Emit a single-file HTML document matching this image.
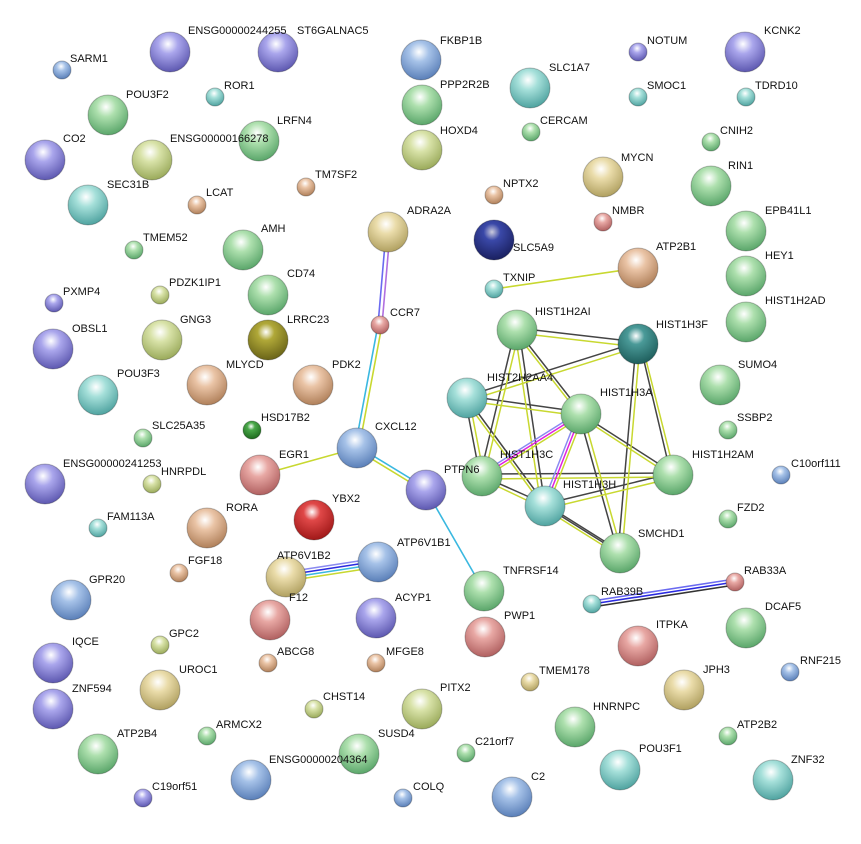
<!DOCTYPE html>
<html><head><meta charset="utf-8"><style>
html,body{margin:0;padding:0;background:#fff;}
svg{display:block;}
text{font-family:"Liberation Sans",sans-serif;font-size:11px;fill:#111;}
</style></head><body>
<svg width="861" height="844" viewBox="0 0 861 844" xmlns="http://www.w3.org/2000/svg">
<defs>
<radialGradient id="pu" cx="45%" cy="30%" r="70%"><stop offset="0" stop-color="#fff"/><stop offset="0.35" stop-color="#aaa6ec"/><stop offset="1" stop-color="#5d58b0"/></radialGradient>
<radialGradient id="bl" cx="45%" cy="30%" r="70%"><stop offset="0" stop-color="#fff"/><stop offset="0.35" stop-color="#a6c2e8"/><stop offset="1" stop-color="#5a7fb8"/></radialGradient>
<radialGradient id="te" cx="45%" cy="30%" r="70%"><stop offset="0" stop-color="#fff"/><stop offset="0.35" stop-color="#a6e0da"/><stop offset="1" stop-color="#4fa3a0"/></radialGradient>
<radialGradient id="gr" cx="45%" cy="30%" r="70%"><stop offset="0" stop-color="#fff"/><stop offset="0.35" stop-color="#aee0ae"/><stop offset="1" stop-color="#5aa66a"/></radialGradient>
<radialGradient id="yg" cx="45%" cy="30%" r="70%"><stop offset="0" stop-color="#fff"/><stop offset="0.35" stop-color="#d8e2a8"/><stop offset="1" stop-color="#9aaa5a"/></radialGradient>
<radialGradient id="ye" cx="45%" cy="30%" r="70%"><stop offset="0" stop-color="#fff"/><stop offset="0.35" stop-color="#eadcaa"/><stop offset="1" stop-color="#b0a060"/></radialGradient>
<radialGradient id="pe" cx="45%" cy="30%" r="70%"><stop offset="0" stop-color="#fff"/><stop offset="0.35" stop-color="#eac4a6"/><stop offset="1" stop-color="#b0805a"/></radialGradient>
<radialGradient id="pk" cx="45%" cy="30%" r="70%"><stop offset="0" stop-color="#fff"/><stop offset="0.35" stop-color="#e8a8a4"/><stop offset="1" stop-color="#b06060"/></radialGradient>
<radialGradient id="rd" cx="45%" cy="30%" r="70%"><stop offset="0" stop-color="#fff"/><stop offset="0.3" stop-color="#e04848"/><stop offset="1" stop-color="#a01818"/></radialGradient>
<radialGradient id="db" cx="45%" cy="30%" r="70%"><stop offset="0" stop-color="#ccd"/><stop offset="0.3" stop-color="#3a48a8"/><stop offset="1" stop-color="#1a2060"/></radialGradient>
<radialGradient id="dg" cx="45%" cy="30%" r="70%"><stop offset="0" stop-color="#fff"/><stop offset="0.3" stop-color="#4aa84a"/><stop offset="1" stop-color="#1e6a1e"/></radialGradient>
<radialGradient id="ol" cx="45%" cy="30%" r="70%"><stop offset="0" stop-color="#fff"/><stop offset="0.3" stop-color="#b0a838"/><stop offset="1" stop-color="#6a6418"/></radialGradient>
<radialGradient id="dt" cx="45%" cy="30%" r="70%"><stop offset="0" stop-color="#fff"/><stop offset="0.3" stop-color="#4a9a98"/><stop offset="1" stop-color="#1e5e5c"/></radialGradient>
</defs>

<!-- edges -->
<g fill="none" stroke-width="1.6">
<line x1="386" y1="232" x2="378" y2="325" stroke="#6a6af0"/><line x1="390" y1="232" x2="382" y2="325" stroke="#b070e0"/>
<line x1="378" y1="325" x2="355" y2="448" stroke="#3ab8e0"/><line x1="382" y1="325" x2="359" y2="448" stroke="#c8d830"/>
<line x1="494" y1="289" x2="638" y2="268" stroke="#c8d830"/>
<line x1="260" y1="475" x2="357" y2="448" stroke="#c8d830"/>
<line x1="357" y1="446" x2="426" y2="488" stroke="#3ab8e0"/><line x1="357" y1="450" x2="426" y2="492" stroke="#c8d830"/>
<line x1="426" y1="490" x2="484" y2="591" stroke="#3ab8e0"/>
<line x1="287" y1="572" x2="378" y2="558" stroke="#8a8af0"/><line x1="287" y1="575" x2="378" y2="561" stroke="#2a2ae0"/><line x1="287" y1="578" x2="378" y2="564" stroke="#3ab8e0"/><line x1="287" y1="581" x2="378" y2="567" stroke="#c8d830"/>
<line x1="592" y1="601" x2="735" y2="579" stroke="#6a6af0"/><line x1="592" y1="604" x2="735" y2="582" stroke="#2a2ae0"/><line x1="592" y1="607" x2="735" y2="585" stroke="#333"/>
</g>
<g fill="none" stroke-width="1.5">
<!-- histone pairs: dark and yellow offset -->
<g stroke="#444">
<line x1="517" y1="328" x2="638" y2="342"/>
<line x1="515" y1="330" x2="480" y2="476"/>
<line x1="519" y1="330" x2="545" y2="506"/>
<line x1="517" y1="330" x2="581" y2="412"/>
<line x1="467" y1="396" x2="638" y2="342"/>
<line x1="467" y1="396" x2="581" y2="412"/>
<line x1="465" y1="398" x2="480" y2="476"/>
<line x1="467" y1="398" x2="545" y2="504"/>
<line x1="636" y1="344" x2="618" y2="553"/>
<line x1="640" y1="344" x2="671" y2="475"/>
<line x1="581" y1="414" x2="673" y2="473"/>
<line x1="579" y1="414" x2="618" y2="553"/>
<line x1="482" y1="474" x2="673" y2="473"/>
<line x1="482" y1="476" x2="545" y2="504"/>
<line x1="545" y1="504" x2="673" y2="473"/>
<line x1="545" y1="504" x2="620" y2="551"/>
<line x1="545" y1="506" x2="620" y2="553"/>
</g>
<g stroke="#c8d830">
<line x1="517" y1="333" x2="638" y2="347"/>
<line x1="519" y1="332" x2="484" y2="477"/>
<line x1="515" y1="332" x2="541" y2="506"/>
<line x1="515" y1="332" x2="579" y2="414"/>
<line x1="467" y1="401" x2="638" y2="347"/>
<line x1="467" y1="401" x2="581" y2="416"/>
<line x1="469" y1="398" x2="484" y2="476"/>
<line x1="465" y1="400" x2="543" y2="506"/>
<line x1="640" y1="344" x2="622" y2="553"/>
<line x1="642" y1="344" x2="675" y2="475"/>
<line x1="581" y1="417" x2="673" y2="477"/>
<line x1="583" y1="414" x2="622" y2="553"/>
<line x1="482" y1="479" x2="673" y2="477"/>
<line x1="480" y1="478" x2="543" y2="508"/>
<line x1="545" y1="509" x2="673" y2="478"/>
<line x1="545" y1="509" x2="620" y2="556"/>
</g>
<line x1="581" y1="411" x2="482" y2="473" stroke="#8a8af0"/><line x1="581" y1="414" x2="482" y2="476" stroke="#e020e0"/><line x1="581" y1="417" x2="482" y2="479" stroke="#c8d830"/>
<line x1="578" y1="414" x2="542" y2="506" stroke="#8a8af0"/><line x1="581" y1="414" x2="545" y2="506" stroke="#e020e0"/><line x1="584" y1="414" x2="548" y2="506" stroke="#c8d830"/>
</g>

<!-- nodes -->
<g stroke="rgba(0,0,0,0.25)" stroke-width="1">
<circle cx="62" cy="70" r="9" fill="url(#bl)"/>
<circle cx="170" cy="52" r="20" fill="url(#pu)"/>
<circle cx="278" cy="52" r="20" fill="url(#pu)"/>
<circle cx="421" cy="60" r="20" fill="url(#bl)"/>
<circle cx="638" cy="52" r="9" fill="url(#pu)"/>
<circle cx="745" cy="52" r="20" fill="url(#pu)"/>
<circle cx="215" cy="97" r="9" fill="url(#te)"/>
<circle cx="108" cy="115" r="20" fill="url(#gr)"/>
<circle cx="422" cy="105" r="20" fill="url(#gr)"/>
<circle cx="530" cy="88" r="20" fill="url(#te)"/>
<circle cx="638" cy="97" r="9" fill="url(#te)"/>
<circle cx="746" cy="97" r="9" fill="url(#te)"/>
<circle cx="259" cy="141" r="20" fill="url(#gr)"/>
<circle cx="152" cy="160" r="20" fill="url(#yg)"/>
<circle cx="45" cy="160" r="20" fill="url(#pu)"/>
<circle cx="422" cy="150" r="20" fill="url(#yg)"/>
<circle cx="531" cy="132" r="9" fill="url(#gr)"/>
<circle cx="711" cy="142" r="9" fill="url(#gr)"/>
<circle cx="603" cy="177" r="20" fill="url(#ye)"/>
<circle cx="711" cy="186" r="20" fill="url(#gr)"/>
<circle cx="306" cy="187" r="9" fill="url(#pe)"/>
<circle cx="197" cy="205" r="9" fill="url(#pe)"/>
<circle cx="88" cy="205" r="20" fill="url(#te)"/>
<circle cx="494" cy="195" r="9" fill="url(#pe)"/>
<circle cx="603" cy="222" r="9" fill="url(#pk)"/>
<circle cx="388" cy="232" r="20" fill="url(#ye)"/>
<circle cx="494" cy="240" r="20" fill="url(#db)"/>
<circle cx="746" cy="231" r="20" fill="url(#gr)"/>
<circle cx="243" cy="250" r="20" fill="url(#gr)"/>
<circle cx="134" cy="250" r="9" fill="url(#gr)"/>
<circle cx="638" cy="268" r="20" fill="url(#pe)"/>
<circle cx="746" cy="276" r="20" fill="url(#gr)"/>
<circle cx="494" cy="289" r="9" fill="url(#te)"/>
<circle cx="54" cy="303" r="9" fill="url(#pu)"/>
<circle cx="160" cy="295" r="9" fill="url(#yg)"/>
<circle cx="268" cy="295" r="20" fill="url(#gr)"/>
<circle cx="746" cy="322" r="20" fill="url(#gr)"/>
<circle cx="53" cy="349" r="20" fill="url(#pu)"/>
<circle cx="162" cy="340" r="20" fill="url(#yg)"/>
<circle cx="268" cy="340" r="20" fill="url(#ol)"/>
<circle cx="380" cy="325" r="9" fill="url(#pk)"/>
<circle cx="517" cy="330" r="20" fill="url(#gr)"/>
<circle cx="638" cy="344" r="20" fill="url(#dt)"/>
<circle cx="98" cy="395" r="20" fill="url(#te)"/>
<circle cx="207" cy="385" r="20" fill="url(#pe)"/>
<circle cx="313" cy="385" r="20" fill="url(#pe)"/>
<circle cx="467" cy="398" r="20" fill="url(#te)"/>
<circle cx="581" cy="414" r="20" fill="url(#gr)"/>
<circle cx="720" cy="385" r="20" fill="url(#gr)"/>
<circle cx="143" cy="438" r="9" fill="url(#gr)"/>
<circle cx="252" cy="430" r="9" fill="url(#dg)"/>
<circle cx="357" cy="448" r="20" fill="url(#bl)"/>
<circle cx="728" cy="430" r="9" fill="url(#gr)"/>
<circle cx="482" cy="476" r="20" fill="url(#gr)"/>
<circle cx="673" cy="475" r="20" fill="url(#gr)"/>
<circle cx="45" cy="484" r="20" fill="url(#pu)"/>
<circle cx="152" cy="484" r="9" fill="url(#yg)"/>
<circle cx="260" cy="475" r="20" fill="url(#pk)"/>
<circle cx="545" cy="506" r="20" fill="url(#te)"/>
<circle cx="426" cy="490" r="20" fill="url(#pu)"/>
<circle cx="781" cy="475" r="9" fill="url(#bl)"/>
<circle cx="314" cy="520" r="20" fill="url(#rd)"/>
<circle cx="98" cy="528" r="9" fill="url(#te)"/>
<circle cx="207" cy="528" r="20" fill="url(#pe)"/>
<circle cx="620" cy="553" r="20" fill="url(#gr)"/>
<circle cx="728" cy="519" r="9" fill="url(#gr)"/>
<circle cx="179" cy="573" r="9" fill="url(#pe)"/>
<circle cx="484" cy="591" r="20" fill="url(#gr)"/>
<circle cx="735" cy="582" r="9" fill="url(#pk)"/>
<circle cx="71" cy="600" r="20" fill="url(#bl)"/>
<circle cx="592" cy="604" r="9" fill="url(#te)"/>
<circle cx="286" cy="577" r="20" fill="url(#ye)"/>
<circle cx="378" cy="562" r="20" fill="url(#bl)"/>
<circle cx="270" cy="620" r="20" fill="url(#pk)"/>
<circle cx="376" cy="618" r="20" fill="url(#pu)"/>
<circle cx="485" cy="637" r="20" fill="url(#pk)"/>
<circle cx="746" cy="628" r="20" fill="url(#gr)"/>
<circle cx="638" cy="646" r="20" fill="url(#pk)"/>
<circle cx="160" cy="645" r="9" fill="url(#yg)"/>
<circle cx="268" cy="663" r="9" fill="url(#pe)"/>
<circle cx="376" cy="663" r="9" fill="url(#pe)"/>
<circle cx="53" cy="663" r="20" fill="url(#pu)"/>
<circle cx="160" cy="690" r="20" fill="url(#ye)"/>
<circle cx="790" cy="672" r="9" fill="url(#bl)"/>
<circle cx="530" cy="682" r="9" fill="url(#ye)"/>
<circle cx="684" cy="690" r="20" fill="url(#ye)"/>
<circle cx="53" cy="709" r="20" fill="url(#pu)"/>
<circle cx="422" cy="709" r="20" fill="url(#yg)"/>
<circle cx="314" cy="709" r="9" fill="url(#yg)"/>
<circle cx="575" cy="727" r="20" fill="url(#gr)"/>
<circle cx="207" cy="736" r="9" fill="url(#gr)"/>
<circle cx="728" cy="736" r="9" fill="url(#gr)"/>
<circle cx="359" cy="754" r="20" fill="url(#gr)"/>
<circle cx="466" cy="753" r="9" fill="url(#gr)"/>
<circle cx="98" cy="754" r="20" fill="url(#gr)"/>
<circle cx="620" cy="770" r="20" fill="url(#te)"/>
<circle cx="773" cy="780" r="20" fill="url(#te)"/>
<circle cx="251" cy="780" r="20" fill="url(#bl)"/>
<circle cx="512" cy="797" r="20" fill="url(#bl)"/>
<circle cx="143" cy="798" r="9" fill="url(#pu)"/>
<circle cx="403" cy="798" r="9" fill="url(#bl)"/>
</g>

<!-- labels -->
<g>
<text x="70" y="62">SARM1</text>
<text x="188" y="34">ENSG00000244255</text>
<text x="297" y="34">ST6GALNAC5</text>
<text x="440" y="44">FKBP1B</text>
<text x="647" y="44">NOTUM</text>
<text x="764" y="34">KCNK2</text>
<text x="224" y="89">ROR1</text>
<text x="126" y="98">POU3F2</text>
<text x="440" y="88">PPP2R2B</text>
<text x="549" y="71">SLC1A7</text>
<text x="647" y="89">SMOC1</text>
<text x="755" y="89">TDRD10</text>
<text x="277" y="124">LRFN4</text>
<text x="170" y="142">ENSG00000166278</text>
<text x="63" y="142">CO2</text>
<text x="440" y="134">HOXD4</text>
<text x="540" y="124">CERCAM</text>
<text x="720" y="134">CNIH2</text>
<text x="621" y="161">MYCN</text>
<text x="728" y="169">RIN1</text>
<text x="315" y="178">TM7SF2</text>
<text x="206" y="196">LCAT</text>
<text x="107" y="188">SEC31B</text>
<text x="503" y="187">NPTX2</text>
<text x="612" y="214">NMBR</text>
<text x="407" y="214">ADRA2A</text>
<text x="513" y="251">SLC5A9</text>
<text x="765" y="214">EPB41L1</text>
<text x="261" y="232">AMH</text>
<text x="143" y="241">TMEM52</text>
<text x="656" y="250">ATP2B1</text>
<text x="765" y="259">HEY1</text>
<text x="503" y="281">TXNIP</text>
<text x="63" y="295">PXMP4</text>
<text x="169" y="286">PDZK1IP1</text>
<text x="287" y="277">CD74</text>
<text x="765" y="304">HIST1H2AD</text>
<text x="72" y="332">OBSL1</text>
<text x="180" y="323">GNG3</text>
<text x="287" y="323">LRRC23</text>
<text x="390" y="316">CCR7</text>
<text x="535" y="315">HIST1H2AI</text>
<text x="656" y="328">HIST1H3F</text>
<text x="117" y="377">POU3F3</text>
<text x="226" y="368">MLYCD</text>
<text x="332" y="368">PDK2</text>
<text x="487" y="381">HIST2H2AA4</text>
<text x="600" y="396">HIST1H3A</text>
<text x="738" y="368">SUMO4</text>
<text x="152" y="429">SLC25A35</text>
<text x="261" y="421">HSD17B2</text>
<text x="375" y="430">CXCL12</text>
<text x="737" y="421">SSBP2</text>
<text x="500" y="458">HIST1H3C</text>
<text x="692" y="458">HIST1H2AM</text>
<text x="63" y="467">ENSG00000241253</text>
<text x="161" y="475">HNRPDL</text>
<text x="279" y="458">EGR1</text>
<text x="563" y="488">HIST1H3H</text>
<text x="444" y="473">PTPN6</text>
<text x="791" y="467">C10orf111</text>
<text x="332" y="502">YBX2</text>
<text x="107" y="520">FAM113A</text>
<text x="226" y="511">RORA</text>
<text x="638" y="537">SMCHD1</text>
<text x="737" y="511">FZD2</text>
<text x="397" y="546">ATP6V1B1</text>
<text x="277" y="559">ATP6V1B2</text>
<text x="188" y="564">FGF18</text>
<text x="503" y="574">TNFRSF14</text>
<text x="744" y="574">RAB33A</text>
<text x="89" y="583">GPR20</text>
<text x="601" y="595">RAB39B</text>
<text x="289" y="601">F12</text>
<text x="395" y="601">ACYP1</text>
<text x="504" y="619">PWP1</text>
<text x="765" y="610">DCAF5</text>
<text x="656" y="628">ITPKA</text>
<text x="169" y="637">GPC2</text>
<text x="277" y="655">ABCG8</text>
<text x="386" y="655">MFGE8</text>
<text x="72" y="645">IQCE</text>
<text x="179" y="673">UROC1</text>
<text x="800" y="664">RNF215</text>
<text x="539" y="674">TMEM178</text>
<text x="703" y="673">JPH3</text>
<text x="72" y="692">ZNF594</text>
<text x="440" y="691">PITX2</text>
<text x="323" y="700">CHST14</text>
<text x="593" y="710">HNRNPC</text>
<text x="216" y="728">ARMCX2</text>
<text x="737" y="728">ATP2B2</text>
<text x="378" y="737">SUSD4</text>
<text x="475" y="745">C21orf7</text>
<text x="117" y="737">ATP2B4</text>
<text x="639" y="752">POU3F1</text>
<text x="791" y="763">ZNF32</text>
<text x="269" y="763">ENSG00000204364</text>
<text x="531" y="780">C2</text>
<text x="152" y="790">C19orf51</text>
<text x="413" y="790">COLQ</text>
</g>
</svg>
</body></html>
